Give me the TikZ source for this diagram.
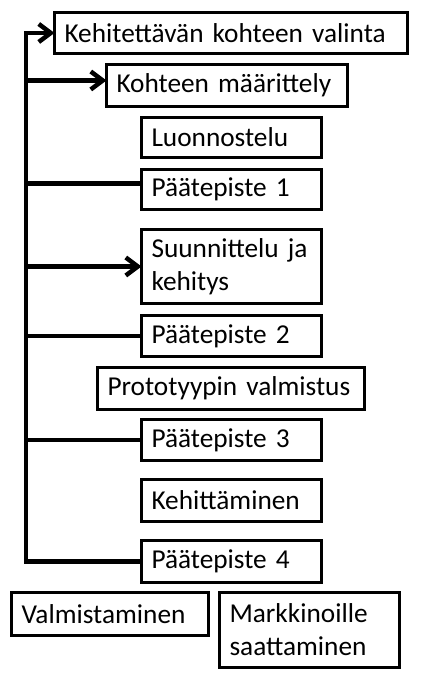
\documentclass[tikz,border=0pt]{standalone}
\usepackage{fontspec}
\setmainfont{Carlito}
\usetikzlibrary{arrows.meta}
\tikzset{
  vaihe/.style={draw, line width=3pt, outer sep=0pt, anchor=north west, align=left,
    inner xsep=10pt, inner ysep=0pt, font=\fontsize{27.3}{33}\selectfont},
  runko/.style={line width=4.5pt},
  nuoli/.style={-{Straight Barb[length=12pt,width=18pt]}}
}
\begin{document}
\begin{tikzpicture}[x=1pt,y=-1pt]
			%%%%% START %%%%%
			\useasboundingbox (0,0) rectangle (430,695);
			
			\node[vaihe, text width=333, minimum height=41] (k1) at (54.5,12.5) {Kehitettävän kohteen valinta};
			\node[vaihe, text width=221, minimum height=42] (k2) at (106.5,64.5) {Kohteen määrittely};
			\node[vaihe, text width=160, minimum height=40] (luonnos) at (141.5,117.5) {Luonnostelu};
			\node[vaihe, text width=160, minimum height=40] (p1) at (141.5,169.5) {Päätepiste 1};
			\node[vaihe, text width=160, minimum height=74] (suunn) at (141.5,229.5) {Suunnittelu ja\\kehitys};
			\node[vaihe, text width=160, minimum height=41] (p2) at (141.5,315.5) {Päätepiste 2};
			\node[vaihe, text width=247, minimum height=42] (proto) at (97.5,367.5) {Prototyypin valmistus};
			\node[vaihe, text width=160, minimum height=41] (p3) at (141.5,419.5) {Päätepiste 3};
			\node[vaihe, text width=160, minimum height=42] (kehit) at (141.5,479.5) {Kehittäminen};
			\node[vaihe, text width=160, minimum height=42] (p4) at (141.5,540.5) {Päätepiste 4};
			\node[vaihe, text width=177, minimum height=43] (valm) at (11.5,592.5) {Valmistaminen};
			\node[vaihe, text width=160, minimum height=75] (mark) at (219.5,592.5) {Markkinoille\\saattaminen};
			
			\coordinate (spine) at (26,33);
			\coordinate (k2in) at ([yshift=5pt]k2.west);
			\coordinate (p1in) at ([yshift=6pt]p1.west);
			
			\draw[runko, nuoli] (p4.west) -| (spine) -- (k1.west);
			\draw[runko, nuoli] (spine |- k2in) -- (k2in);
			\draw[runko] (spine |- p1in) -- (p1in);
			\draw[runko, nuoli] (spine |- suunn.west) -- (suunn.west);
			\draw[runko] (spine |- p2.west) -- (p2.west);
			\draw[runko] (spine |- p3.west) -- (p3.west);
			
			%%%%% END %%%%%
\end{tikzpicture}
\end{document}
